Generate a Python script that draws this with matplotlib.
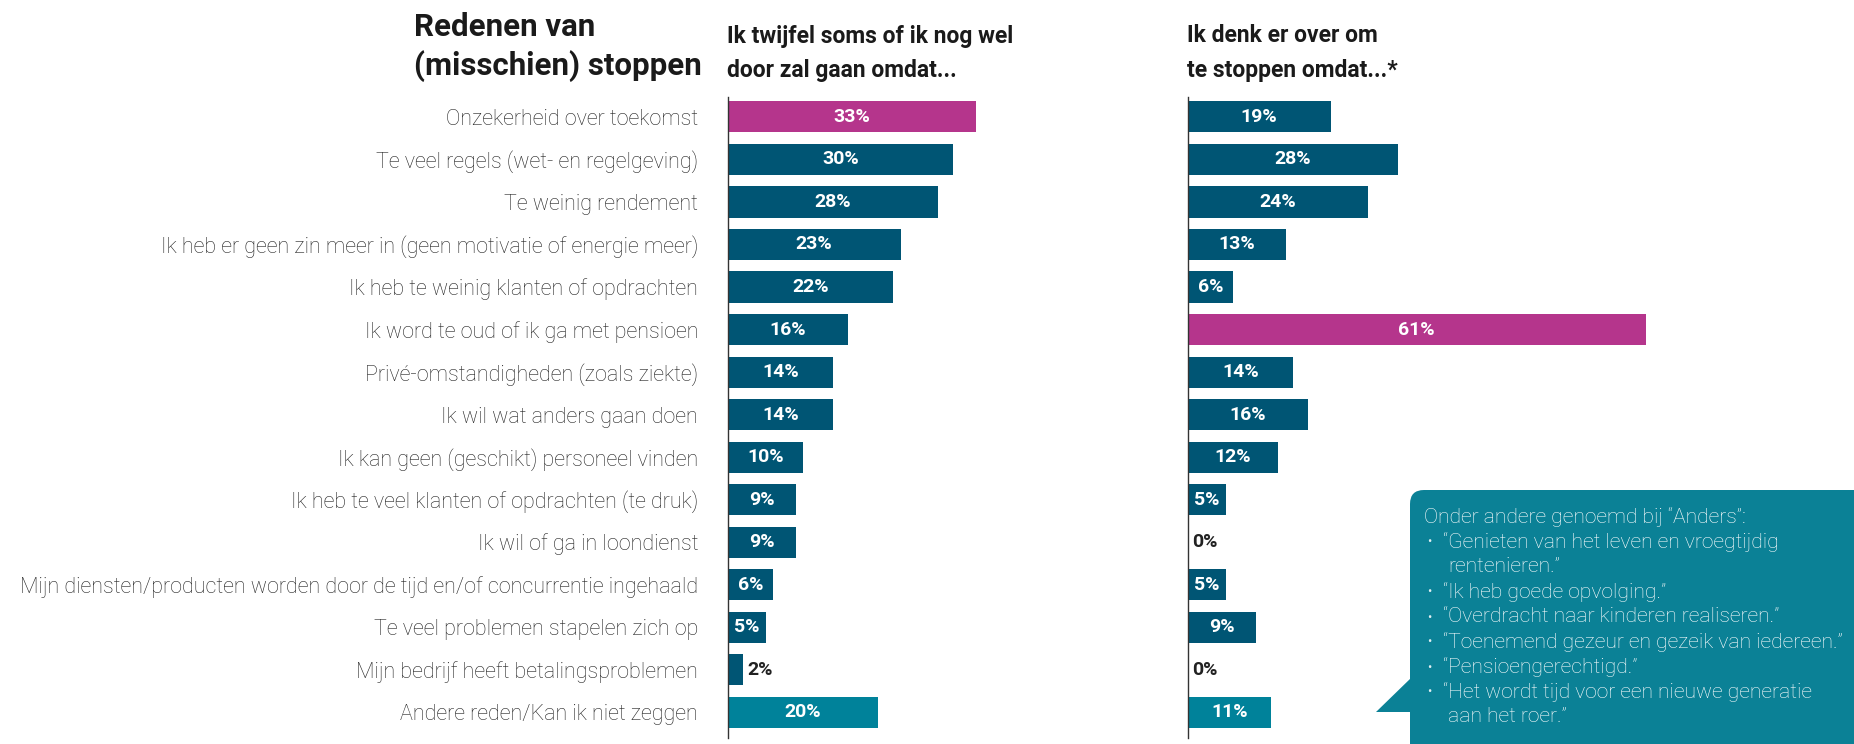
import matplotlib
matplotlib.use("Agg")
from matplotlib import pyplot as plt
from matplotlib.patches import FancyBboxPatch, Polygon

# data
reasons = [
    "Onzekerheid over toekomst",
    "Te veel regels (wet- en regelgeving)",
    "Te weinig rendement",
    "Ik heb er geen zin meer in (geen motivatie of energie meer)",
    "Ik heb te weinig klanten of opdrachten",
    "Ik word te oud of ik ga met pensioen",
    "Privé-omstandigheden (zoals ziekte)",
    "Ik wil wat anders gaan doen",
    "Ik kan geen (geschikt) personeel vinden",
    "Ik heb te veel klanten of opdrachten (te druk)",
    "Ik wil of ga in loondienst",
    "Mijn diensten/producten worden door de tijd en/of concurrentie ingehaald",
    "Te veel problemen stapelen zich op",
    "Mijn bedrijf heeft betalingsproblemen",
    "Andere reden/Kan ik niet zeggen",
]
twijfel = [33, 30, 28, 23, 22, 16, 14, 14, 10, 9, 9, 6, 5, 2, 20]
stoppen = [19, 28, 24, 13, 6, 61, 14, 16, 12, 5, 0, 5, 9, 0, 11]

title_lines = ["Redenen van", "(misschien) stoppen"]
head_left = ["Ik twijfel soms of ik nog wel", "door zal gaan omdat..."]
head_right = ["Ik denk er over om", "te stoppen omdat...*"]

anders_title = "Onder andere genoemd bij \u201cAnders\u201d:"
anders_quotes = [
    "\u201cGenieten van het leven en vroegtijdig\nrentenieren.\u201d",
    "\u201cIk heb goede opvolging.\u201d",
    "\u201cOverdracht naar kinderen realiseren.\u201d",
    "\u201cToenemend gezeur en gezeik van iedereen.\u201d",
    "\u201cPensioengerechtigd.\u201d",
    "\u201cHet wordt tijd voor een nieuwe generatie\naan het roer.\u201d",
]

DARK = "#005574"
MAGENTA = "#B5358C"
LIGHT = "#00829A"
TXT = "#222222"
FONT = ["Roboto", "DejaVu Sans"]

W, H = 1854, 744
fig = plt.figure(figsize=(W / 100, H / 100), dpi=100)


def box(x0, y0, x1, y1):
    # pixel box (top-left origin) -> figure rect
    return [x0 / W, 1 - y1 / H, (x1 - x0) / W, (y1 - y0) / H]


def colors_for(n, hi):
    c = [DARK] * n
    c[hi] = MAGENTA
    c[-1] = LIGHT
    return c


PX_PER = 7.5
y = list(range(len(reasons)))


def panel(x0, vals, xmax, hi, show_labels):
    ax = fig.add_axes(box(x0, 97, x0 + xmax * PX_PER, 738))
    ax.barh(y, vals, height=0.73, color=colors_for(len(vals), hi))
    ax.set_xlim(0, xmax)
    ax.set_ylim(len(vals) - 0.39, -0.47)
    for s in ["top", "right", "bottom"]:
        ax.spines[s].set_visible(False)
    ax.spines["left"].set_color("#333333")
    ax.spines["left"].set_linewidth(1.0)
    ax.set_xticks([])
    ax.set_yticks(y)
    if show_labels:
        ax.set_yticklabels(reasons, fontsize=15.5, color=TXT,
                           family=FONT, fontweight="light")
    else:
        ax.set_yticklabels([])
    ax.tick_params(axis="y", length=0, pad=21.5)
    for i, v in enumerate(vals):
        if v >= 4:
            ax.text(v / 2, i, f"{v}%", ha="center", va="center",
                    color="white", fontsize=14, fontweight="bold", family=FONT)
        else:
            ax.text(v + 0.55, i, f"{v}%", ha="left", va="center",
                    color="#222222", fontsize=14, fontweight="bold", family=FONT)
    return ax


axl = panel(728, twijfel, 60, 0, True)
axr = panel(1188, stoppen, 62, 5, False)

# titles
fig.text(414 / W, 1 - 27 / H, title_lines[0], fontsize=22.5, fontweight="bold",
         color="#1a1a1a", family=FONT, ha="left", va="center")
fig.text(414 / W, 1 - 66 / H, title_lines[1], fontsize=22.5, fontweight="bold",
         color="#1a1a1a", family=FONT, ha="left", va="center")
for i, t in enumerate(head_left):
    fig.text(727 / W, 1 - (36 + 34 * i) / H, t, fontsize=16.5, fontweight="bold",
             color="#1a1a1a", family=FONT, ha="left", va="center")
for i, t in enumerate(head_right):
    fig.text(1187 / W, 1 - (36 + 34 * i) / H, t, fontsize=16.5, fontweight="bold",
             color="#1a1a1a", family=FONT, ha="left", va="center")

# callout box
ov = fig.add_axes([0, 0, 1, 1], zorder=5)
ov.set_xlim(0, W)
ov.set_ylim(H, 0)
ov.axis("off")
ov.patch.set_visible(False)
CALL = "#0B8196"
ov.add_patch(FancyBboxPatch((1410, 490), 480, 280,
                            boxstyle="round,pad=0,rounding_size=14",
                            fc=CALL, ec="none"))
ov.add_patch(Polygon([(1411, 678), (1376, 712), (1411, 712)],
                     closed=True, fc=CALL, ec="none"))

LINE = 25
yy = 517
ov.text(1424, yy, anders_title, color="white", fontsize=15.2,
        fontweight="light", family=FONT, va="center", ha="left")
for q in anders_quotes:
    parts = q.split("\n")
    yy += LINE
    ov.text(1427, yy, "\u2022", color="#dfeff2", fontsize=9,
            family=FONT, va="center", ha="left")
    ov.text(1443, yy, parts[0], color="white", fontsize=15.2,
            fontweight="light", family=FONT, va="center", ha="left")
    for p in parts[1:]:
        yy += LINE
        ov.text(1448, yy, p, color="white", fontsize=15.2,
                fontweight="light", family=FONT, va="center", ha="left")

fig.savefig("out.png", dpi=100)
